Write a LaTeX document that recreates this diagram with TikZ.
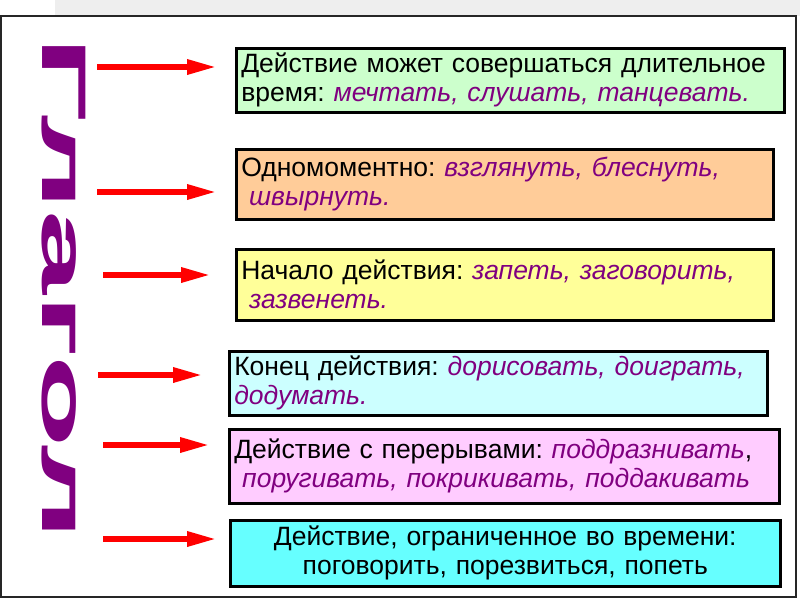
\documentclass[tikz,border=0pt]{standalone}
\usepackage{fontspec}
\setmainfont{Liberation Sans}
\usetikzlibrary{arrows.meta}
\definecolor{VerbPurple}{HTML}{800080}
\definecolor{BoxGreen}{HTML}{CCFFCC}
\definecolor{BoxOrange}{HTML}{FFCC99}
\definecolor{BoxYellow}{HTML}{FFFF99}
\definecolor{BoxIce}{HTML}{CCFFFF}
\definecolor{BoxPink}{HTML}{FFCCFF}
\definecolor{BoxCyan}{HTML}{66FFFF}
\definecolor{StripGray}{HTML}{EEEEEE}
\newcommand{\ex}[1]{\textcolor{VerbPurple}{\itshape #1}}
\frenchspacing

\begin{document}
\begin{tikzpicture}[x=1pt,y=-1pt,
  card/.style={draw=black,line width=2.5pt,anchor=north west,inner sep=5pt,align=left,font=\fontsize{26.5}{29}\selectfont},
  pointer/.style={red,line width=6pt,-{Triangle[length=30pt,width=14pt]}}]
  \useasboundingbox (0,0) rectangle (800,600);
  \fill[StripGray] (55,0) rectangle (800,16);
  \draw[black!85,line width=2pt] (1,16) rectangle (796,597);
  % vertical title
  \node[rotate=-90,anchor=base west,inner sep=0pt,text=VerbPurple,font=\fontsize{63}{63}\selectfont\bfseries] (verb) at (42,36) {\scalebox{2.4}[1]{Глагол}};
  % the six boxes
  \node[card,fill=BoxGreen,minimum width=548pt,minimum height=64pt,text width=538pt] (b1) at (235,47) {Действие может совершаться длительное\\время: \ex{мечтать, слушать, танцевать.}};
  \node[card,fill=BoxOrange,minimum width=537pt,minimum height=70pt,text width=527pt] (b2) at (235,148) {Одномоментно: \ex{взглянуть, блеснуть,}\\\hspace*{.3em}\ex{швырнуть.}};
  \node[card,fill=BoxYellow,minimum width=537pt,minimum height=71pt,text width=527pt] (b3) at (235,248) {Начало действия: \ex{запеть, заговорить,}\\\hspace*{.3em}\ex{зазвенеть.}};
  \node[card,fill=BoxIce,minimum width=538pt,minimum height=63pt,text width=528pt] (b4) at (228,350) {Конец действия: \ex{дорисовать, доиграть,}\\\ex{додумать.}};
  \node[card,fill=BoxPink,minimum width=550pt,minimum height=74pt,text width=540pt] (b5) at (228,428) {Действие с перерывами: \ex{поддразнивать},\\\hspace*{.3em}\ex{поругивать, покрикивать, поддакивать}};
  \node[card,fill=BoxCyan,minimum width=550pt,minimum height=66pt,text width=540pt,align=center] (b6) at (229,519) {Действие, ограниченное во времени:\\поговорить, порезвиться, попеть};
  % arrows
  \coordinate (t1) at (97,67); \coordinate (h1) at (217,67);
  \coordinate (t2) at (97,192); \coordinate (h2) at (217,192);
  \coordinate (t3) at (103,275); \coordinate (h3) at (211,275);
  \coordinate (t4) at (98,375); \coordinate (h4) at (203,375);
  \coordinate (t5) at (103,445); \coordinate (h5) at (210,445);
  \coordinate (t6) at (103,539); \coordinate (h6) at (217,539);
  \foreach \i in {1,...,6} \draw[pointer] (t\i) -- (h\i);
\end{tikzpicture}
\end{document}
